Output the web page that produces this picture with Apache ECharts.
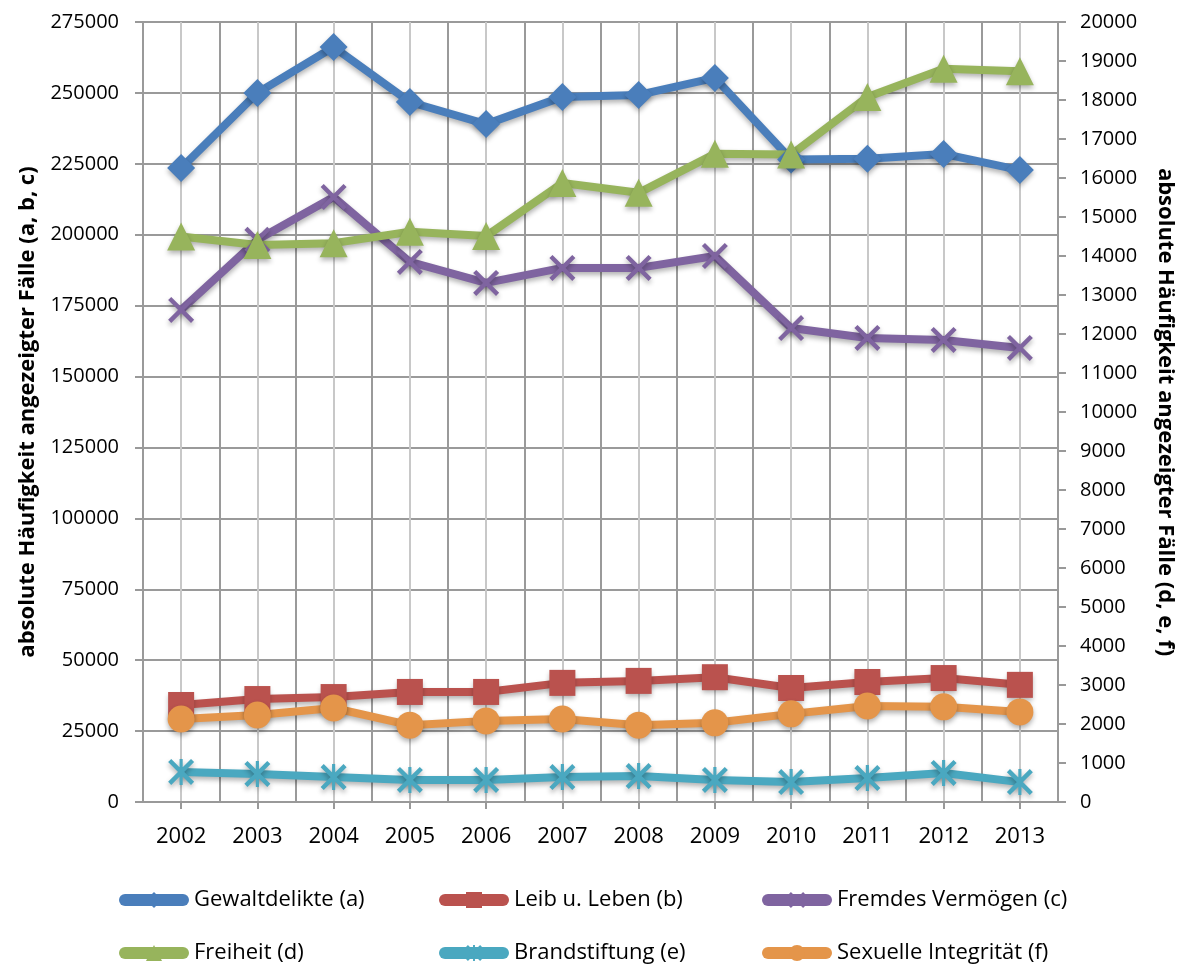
<!DOCTYPE html>
<html>
<head>
<meta charset="utf-8">
<title>Angezeigte Fälle 2002-2013</title>
<script src="https://cdn.jsdelivr.net/npm/echarts@6/dist/echarts.min.js"></script>
<style>
  html, body { margin: 0; padding: 0; background: #fff; }
  #chart { width: 1184px; height: 964px; }
</style>
</head>
<body>
<div id="chart"></div>
<script>
// years on the x axis
var years = ['2002', '2003', '2004', '2005', '2006', '2007', '2008', '2009', '2010', '2011', '2012', '2013'];

// left axis series (a, b, c)
var gewaltdelikte = [223500, 250000, 266200, 246800, 239000, 248600, 249300, 255300, 226500, 226800, 228500, 222800];
var leibLeben = [34200, 36300, 37000, 38800, 38800, 42000, 42700, 44000, 40200, 42300, 43700, 41300];
var fremdesVermoegen = [173500, 198200, 213300, 190400, 183000, 188300, 188300, 192500, 167100, 163600, 162900, 160100];

// right axis series (d, e, f)
var freiheit = [14500, 14280, 14330, 14620, 14510, 15870, 15620, 16620, 16600, 18080, 18800, 18740];
var brandstiftung = [770, 720, 640, 565, 565, 640, 665, 565, 510, 615, 745, 510];
var sexuelleIntegritaet = [2130, 2230, 2410, 1970, 2080, 2130, 1970, 2030, 2260, 2460, 2440, 2310];

var fontName = '"Open Sans", "DejaVu Sans", sans-serif';

// X and asterisk markers as filled shapes
var crossPath = 'path://M0,1.2L1.2,0L10,8.8L8.8,10Z M8.8,0L10,1.2L1.2,10L0,8.8Z';
var starPath = 'path://M0,1.2L1.2,0L10,8.8L8.8,10Z M8.8,0L10,1.2L1.2,10L0,8.8Z M4.4,0L5.6,0L5.6,10L4.4,10Z';

function plainNumber(v) {
	return String(v);
}

function makeSeries(name, data, axisIndex, color, symbol, size) {
	return {
		name: name,
		type: 'line',
		yAxisIndex: axisIndex,
		data: data,
		symbol: symbol,
		symbolSize: size,
		color: color,
		lineStyle: {
			width: 8,
			color: color,
			shadowBlur: 5,
			shadowColor: 'rgba(0,0,0,0.3)',
			shadowOffsetY: 3
		},
		itemStyle: {
			color: color,
			shadowBlur: 5,
			shadowColor: 'rgba(0,0,0,0.3)',
			shadowOffsetY: 3
		},
		emphasis: { disabled: true },
		animation: false
	};
}

// one legend per item so the columns line up like the original
function makeLegend(name, left, top) {
	return {
		data: [name],
		left: left,
		top: top,
		itemWidth: 58,
		itemHeight: 20,
		itemGap: 0,
		lineStyle: { width: 12, cap: 'round', shadowBlur: 0, shadowOffsetY: 0 },
		itemStyle: { shadowBlur: 0, shadowOffsetY: 0 },
		textStyle: { fontFamily: fontName, fontSize: 22, color: '#000', padding: [0, 0, 0, 6] }
	};
}

var myChart = echarts.init(document.getElementById('chart'));

var option = {
	backgroundColor: '#fff',
	textStyle: { fontFamily: fontName },
	legend: [
		makeLegend('Gewaltdelikte (a)', 114, 884),
		makeLegend('Leib u. Leben (b)', 434, 884),
		makeLegend('Fremdes Vermögen (c)', 757, 884),
		makeLegend('Freiheit (d)', 114, 937),
		makeLegend('Brandstiftung (e)', 434, 937),
		makeLegend('Sexuelle Integrität (f)', 757, 937)
	],
	grid: {
		left: 143,
		right: 119,
		top: 22,
		bottom: 162
	},
	xAxis: [{
		type: 'category',
		data: years,
		boundaryGap: true,
		axisLine: { lineStyle: { color: '#999', width: 2 } },
		axisTick: { show: true, alignWithLabel: true, length: 7, lineStyle: { color: '#999', width: 2 } },
		axisLabel: { fontSize: 22, color: '#000', margin: 24, fontFamily: fontName },
		splitLine: { show: true, lineStyle: { color: '#9a9a9a', width: 2 } },
		z: 3
	}, {
		// lighter lines through the category centres
		type: 'value',
		min: 0,
		max: 12,
		interval: 0.5,
		show: true,
		axisLine: { show: false },
		axisTick: { show: false },
		axisLabel: { show: false },
		splitLine: { show: true, lineStyle: { color: '#c8c8c8', width: 2 } },
		z: 1
	}],
	yAxis: [{
		type: 'value',
		min: 0,
		max: 275000,
		interval: 25000,
		name: 'absolute Häufigkeit angezeigter Fälle (a, b, c)',
		nameLocation: 'middle',
		nameGap: 104,
		nameTextStyle: { fontSize: 22, fontWeight: 'bold', color: '#000', fontFamily: fontName },
		axisLine: { show: true, lineStyle: { color: '#999', width: 2 } },
		axisTick: { show: true, length: 8, lineStyle: { color: '#999', width: 2 } },
		axisLabel: { fontSize: 20, color: '#000', margin: 24, fontFamily: fontName, formatter: plainNumber },
		splitLine: { show: true, lineStyle: { color: '#9a9a9a', width: 2 } }
	}, {
		type: 'value',
		position: 'right',
		min: 0,
		max: 20000,
		interval: 1000,
		name: 'absolute Häufigkeit angezeigter Fälle (d, e, f)',
		nameLocation: 'middle',
		nameRotate: -90,
		nameGap: 96,
		nameTextStyle: { fontSize: 22, fontWeight: 'bold', color: '#000', fontFamily: fontName },
		axisLine: { show: true, lineStyle: { color: '#999', width: 2 } },
		axisTick: { show: true, length: 8, lineStyle: { color: '#999', width: 2 } },
		axisLabel: { fontSize: 20, color: '#000', margin: 22, fontFamily: fontName, formatter: plainNumber },
		splitLine: { show: false }
	}],
	series: [
		makeSeries('Gewaltdelikte (a)', gewaltdelikte, 0, '#4A7EBB', 'diamond', 28),
		makeSeries('Leib u. Leben (b)', leibLeben, 0, '#BA524E', 'rect', 26),
		makeSeries('Fremdes Vermögen (c)', fremdesVermoegen, 0, '#7F64A0', crossPath, 26),
		makeSeries('Freiheit (d)', freiheit, 1, '#97B45C', 'triangle', 28),
		makeSeries('Brandstiftung (e)', brandstiftung, 1, '#4AA8C0', starPath, 26),
		makeSeries('Sexuelle Integrität (f)', sexuelleIntegritaet, 1, '#E4954A', 'circle', 27)
	]
};

myChart.setOption(option);
</script>
</body>
</html>
